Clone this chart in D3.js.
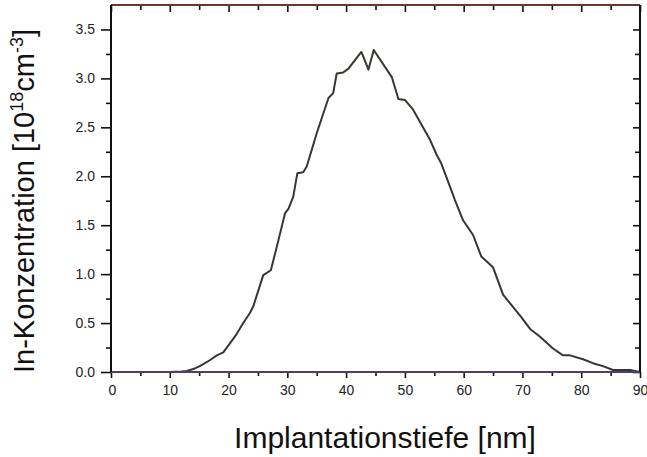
<!DOCTYPE html>
<html>
<head>
<meta charset="utf-8">
<script src="https://cdn.jsdelivr.net/npm/d3@7"></script>
<style>
  body { margin: 0; background: #fff; }
  text { font-family: "Liberation Sans", Arial, sans-serif; }
</style>
</head>
<body>
<div id="chart"></div>
<script>
// implantation depth (nm) and In concentration (1e18 cm^-3)
const depth = [0, 5, 10, 12, 12.9, 14, 15.1, 15.7, 16.8, 18.0, 19.1, 20.2, 21.4, 22.5, 23.6, 24.2,
  25.9, 27.2, 28.5, 29.6, 30.2, 31.0, 31.7, 32.7, 33.3, 35.0, 37.0, 37.8, 38.4, 39.5, 40.4, 41.8,
  42.6, 43.8, 44.7, 47.8, 48.9, 50.0, 51.4, 54.3, 55.4, 56.2, 57.7, 58.5, 59.9, 61.6, 63.0, 65.0,
  66.7, 67.9, 69.8, 71.3, 73.0, 75.2, 76.9, 78.1, 80.3, 82.0, 83.7, 85.4, 88.3, 90];
const conc = [0, 0, 0, 0.005, 0.01, 0.03, 0.06, 0.08, 0.12, 0.17, 0.20, 0.29, 0.39, 0.50, 0.60, 0.67,
  0.99, 1.04, 1.35, 1.62, 1.67, 1.79, 2.03, 2.04, 2.10, 2.44, 2.80, 2.85, 3.05, 3.06, 3.10, 3.21,
  3.27, 3.09, 3.29, 3.01, 2.79, 2.78, 2.68, 2.37, 2.22, 2.13, 1.89, 1.76, 1.55, 1.40, 1.18, 1.07,
  0.79, 0.70, 0.56, 0.44, 0.36, 0.24, 0.17, 0.17, 0.13, 0.09, 0.06, 0.02, 0.02, 0];
const xTicks = [0, 10, 20, 30, 40, 50, 60, 70, 80, 90];
const yTicks = [0, 0.5, 1.0, 1.5, 2.0, 2.5, 3.0, 3.5];

var width = 647;
var height = 457;
var margin = { top: 5, right: 7, bottom: 85, left: 111 };
var w = width - margin.left - margin.right;
var h = height - margin.top - margin.bottom;

var svg = d3.select("#chart").append("svg")
  .attr("width", width)
  .attr("height", height);

var g = svg.append("g")
  .attr("transform", "translate(" + margin.left + "," + margin.top + ")");

var x = d3.scaleLinear().domain([0, 90]).range([0, w]);
var y = d3.scaleLinear().domain([0, 3.75]).range([h, 0]);

var minorX = d3.range(5, 90, 10);
var minorY = d3.range(0.25, 3.75, 0.5);

// the curve
var line = d3.line()
  .x((d, i) => x(depth[i]))
  .y(d => y(d));

g.append("path")
  .datum(conc)
  .attr("d", line)
  .attr("fill", "none")
  .attr("stroke", "#36372f")
  .attr("stroke-width", 2)
  .attr("stroke-linejoin", "round");

// bottom axis
var bottom = g.append("g").attr("transform", "translate(0," + h + ")")
  .call(d3.axisBottom(x).tickValues(xTicks).tickSize(6).tickPadding(7).tickFormat(d3.format("d")));
bottom.selectAll(".tick").filter(d => d === 0).select("text").attr("dx", 1);
g.append("g").attr("transform", "translate(0," + h + ")")
  .call(d3.axisBottom(x).tickValues(minorX).tickSize(4).tickFormat(""));

// left axis
g.append("g")
  .call(d3.axisLeft(y).tickValues(yTicks).tickSize(10).tickPadding(6).tickFormat(d3.format(".1f")));
g.append("g")
  .call(d3.axisLeft(y).tickValues(minorY).tickSize(5).tickFormat(""));

// top and right axes, ticks inward
g.append("g")
  .call(d3.axisBottom(x).tickValues(xTicks).tickSize(7).tickFormat(""));
g.append("g")
  .call(d3.axisBottom(x).tickValues(minorX).tickSize(5).tickFormat(""));
g.append("g").attr("transform", "translate(" + w + ",0)")
  .call(d3.axisLeft(y).tickValues(yTicks).tickSize(7).tickFormat(""));
g.append("g").attr("transform", "translate(" + w + ",0)")
  .call(d3.axisLeft(y).tickValues(minorY).tickSize(5).tickFormat(""));

g.selectAll(".domain").remove();
g.selectAll(".tick line").attr("stroke", "#111").attr("stroke-width", 1.6);
g.selectAll(".tick text").attr("fill", "#222").style("font-size", "14px");

// frame
g.append("line").attr("x1", 0).attr("x2", w).attr("y1", 0).attr("y2", 0)
  .attr("stroke", "#6e3434").attr("stroke-width", 2);
g.append("line").attr("x1", 0).attr("x2", w).attr("y1", h).attr("y2", h)
  .attr("stroke", "#4f3c72").attr("stroke-width", 2);
g.append("line").attr("x1", 0).attr("x2", 0).attr("y1", 0).attr("y2", h)
  .attr("stroke", "#111").attr("stroke-width", 2);
g.append("line").attr("x1", w).attr("x2", w).attr("y1", 0).attr("y2", h)
  .attr("stroke", "#111").attr("stroke-width", 2);

// axis titles
svg.append("text")
  .attr("x", 385)
  .attr("y", 448)
  .attr("text-anchor", "middle")
  .style("font-size", "30px")
  .attr("fill", "#111")
  .text("Implantationstiefe [nm]");

var yl = svg.append("text")
  .attr("transform", "translate(34,201) rotate(-90)")
  .attr("text-anchor", "middle")
  .style("font-size", "29px")
  .attr("fill", "#111");
yl.append("tspan").text("In-Konzentration [10");
yl.append("tspan").attr("dy", -11).style("font-size", "18px").text("18");
yl.append("tspan").attr("dy", 11).text("cm");
yl.append("tspan").attr("dy", -11).style("font-size", "18px").text("-3");
yl.append("tspan").attr("dy", 11).text("]");
</script>
</body>
</html>
